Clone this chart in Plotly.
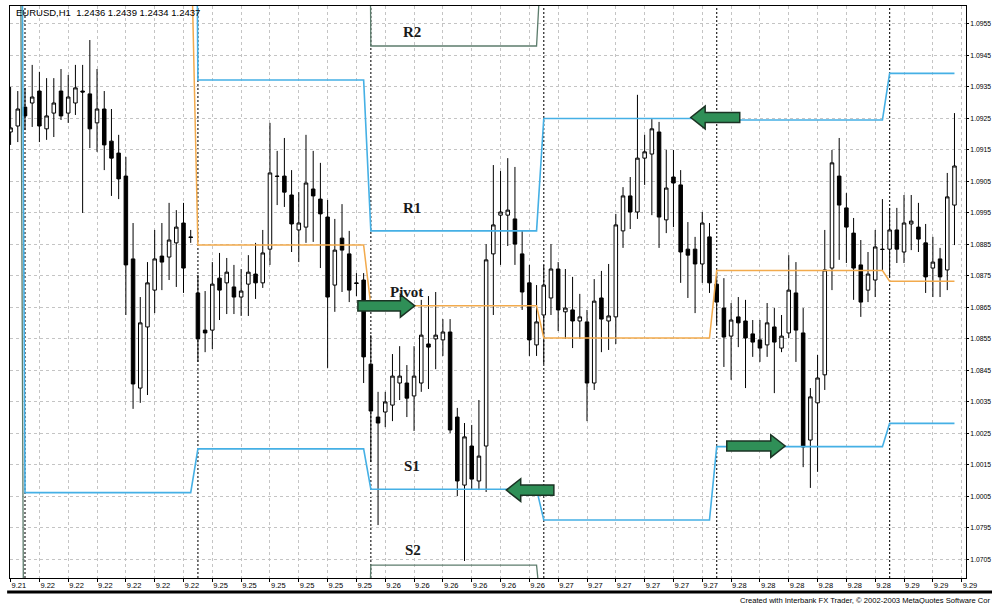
import plotly.graph_objects as go

# ---------------- data (H1 bars, index 0 = first bar of 9.22) ----------------
bars = list(range(-2, 130))

opens = [1.09207, 1.09226, 1.09286, 1.09299, 1.09337, 1.09217, 1.09267, 1.09337, 1.09267, 1.09299, 1.09337, 1.09328,
         1.09236, 1.09280, 1.09178, 1.09140, 1.09067, 1.08804, 1.08394, 1.08588, 1.08705, 1.08813, 1.08810, 1.08855,
         1.08918, 1.08874, 1.08696, 1.08578, 1.08578, 1.08743, 1.08728, 1.08715, 1.08683, 1.08724, 1.08756, 1.08728,
         1.08835, 1.09067, 1.09067, 1.09007, 1.08896, 1.08905, 1.09026, 1.08994, 1.08937, 1.08721, 1.08870, 1.08820,
         1.08728, 1.08737, 1.08470, 1.08302, 1.08318, 1.08340, 1.08410, 1.08410, 1.08369, 1.08410, 1.08534, 1.08550,
         1.08547, 1.08572, 1.08302, 1.08086, 1.08210, 1.08099, 1.08210, 1.08820, 1.08943, 1.08943, 1.08931, 1.08820,
         1.08728, 1.08531, 1.08626, 1.08680, 1.08772, 1.08636, 1.08642, 1.08607, 1.08604, 1.08410, 1.08680, 1.08607,
         1.08620, 1.08893, 1.09004, 1.08953, 1.09124, 1.09137, 1.09207, 1.08928, 1.09064, 1.09039, 1.08835, 1.08835,
         1.08788, 1.08874, 1.08724, 1.08648, 1.08559, 1.08620, 1.08607, 1.08566, 1.08547, 1.08531, 1.08588, 1.08521,
         1.08569, 1.08696, 1.08569, 1.08229, 1.08347, 1.08436, 1.08775, 1.09067, 1.08966, 1.08886, 1.08785, 1.08705,
         1.08737, 1.08835, 1.08835, 1.08896, 1.08826, 1.08915, 1.08905, 1.08855, 1.08775, 1.08804, 1.08769, 1.08975]

highs = [1.09350, 1.09337, 1.09347, 1.09420, 1.09398, 1.09378, 1.09378, 1.09407, 1.09388, 1.09420, 1.09420, 1.09499,
         1.09407, 1.09337, 1.09280, 1.09198, 1.09128, 1.08918, 1.08683, 1.08794, 1.08896, 1.08918, 1.08982, 1.08959,
         1.08982, 1.08896, 1.08753, 1.08702, 1.08794, 1.08823, 1.08807, 1.08785, 1.08772, 1.08816, 1.08855, 1.08896,
         1.09236, 1.09147, 1.09188, 1.09086, 1.09016, 1.09198, 1.09147, 1.09109, 1.08991, 1.08931, 1.08978, 1.08893,
         1.08759, 1.08759, 1.08562, 1.08382, 1.08382, 1.08502, 1.08527, 1.08467, 1.08527, 1.08674, 1.08686, 1.08699,
         1.08613, 1.08613, 1.08331, 1.08283, 1.08277, 1.08356, 1.08851, 1.09102, 1.09083, 1.09124, 1.09096, 1.08893,
         1.08785, 1.08721, 1.08785, 1.08851, 1.08794, 1.08772, 1.08747, 1.08693, 1.08642, 1.08740, 1.08766, 1.08788,
         1.08947, 1.09032, 1.09064, 1.09325, 1.09198, 1.09248, 1.09239, 1.09150, 1.09150, 1.09086, 1.08921, 1.08874,
         1.08953, 1.08918, 1.08759, 1.08743, 1.08664, 1.08683, 1.08674, 1.08610, 1.08610, 1.08664, 1.08648, 1.08626,
         1.08816, 1.08794, 1.08648, 1.08394, 1.08499, 1.08896, 1.09150, 1.09188, 1.09013, 1.08934, 1.08864, 1.08826,
         1.08896, 1.08994, 1.08966, 1.08966, 1.09007, 1.09007, 1.08982, 1.08915, 1.08874, 1.08839, 1.09077, 1.09267]

lows = [1.09166, 1.09175, 1.09213, 1.09223, 1.09175, 1.09182, 1.09191, 1.09245, 1.09236, 1.09261, 1.08950, 1.09156,
        1.09144, 1.09086, 1.09004, 1.08994, 1.08626, 1.08328, 1.08347, 1.08372, 1.08632, 1.08705, 1.08737, 1.08715,
        1.08696, 1.08855, 1.08477, 1.08508, 1.08518, 1.08610, 1.08629, 1.08629, 1.08623, 1.08623, 1.08677, 1.08712,
        1.08785, 1.08975, 1.08969, 1.08826, 1.08794, 1.08855, 1.08858, 1.08775, 1.08458, 1.08636, 1.08699, 1.08667,
        1.08686, 1.08410, 1.08159, 1.07959, 1.08270, 1.08289, 1.08356, 1.08302, 1.08258, 1.08382, 1.08391, 1.08454,
        1.08496, 1.08251, 1.08051, 1.07845, 1.08073, 1.08070, 1.08064, 1.08626, 1.08785, 1.08845, 1.08785, 1.08642,
        1.08496, 1.08496, 1.08470, 1.08626, 1.08575, 1.08550, 1.08521, 1.08550, 1.08289, 1.08388, 1.08508, 1.08515,
        1.08534, 1.08839, 1.08899, 1.08931, 1.09039, 1.08943, 1.08839, 1.08886, 1.08905, 1.08728, 1.08680, 1.08632,
        1.08728, 1.08696, 1.08594, 1.08461, 1.08420, 1.08524, 1.08394, 1.08493, 1.08477, 1.08493, 1.08378, 1.08508,
        1.08553, 1.08477, 1.08143, 1.08077, 1.08128, 1.08388, 1.08705, 1.08801, 1.08791, 1.08674, 1.08620, 1.08667,
        1.08683, 1.08769, 1.08747, 1.08791, 1.08791, 1.08832, 1.08826, 1.08696, 1.08683, 1.08683, 1.08705, 1.08848]

closes = [1.09220, 1.09280, 1.09258, 1.09318, 1.09226, 1.09258, 1.09299, 1.09258, 1.09318, 1.09347, 1.09334, 1.09217,
          1.09280, 1.09166, 1.09124, 1.09058, 1.08785, 1.08407, 1.08601, 1.08728, 1.08804, 1.08794, 1.08864, 1.08905,
          1.08775, 1.08872, 1.08550, 1.08569, 1.08724, 1.08705, 1.08762, 1.08683, 1.08702, 1.08762, 1.08728, 1.08823,
          1.09077, 1.09066, 1.09016, 1.08915, 1.08918, 1.09045, 1.09004, 1.08947, 1.08683, 1.08832, 1.08832, 1.08705,
          1.08726, 1.08493, 1.08321, 1.08283, 1.08350, 1.08432, 1.08432, 1.08362, 1.08432, 1.08562, 1.08524, 1.08562,
          1.08572, 1.08261, 1.08099, 1.08239, 1.08105, 1.08178, 1.08801, 1.08912, 1.08953, 1.08959, 1.08851, 1.08699,
          1.08547, 1.08604, 1.08721, 1.08772, 1.08642, 1.08648, 1.08607, 1.08620, 1.08410, 1.08670, 1.08613, 1.08623,
          1.08912, 1.09004, 1.08953, 1.09124, 1.09144, 1.09217, 1.08937, 1.09029, 1.09045, 1.08826, 1.08816, 1.08788,
          1.08918, 1.08728, 1.08667, 1.08556, 1.08610, 1.08601, 1.08553, 1.08540, 1.08521, 1.08601, 1.08540, 1.08559,
          1.08705, 1.08578, 1.08207, 1.08366, 1.08426, 1.08769, 1.09109, 1.08975, 1.08905, 1.08775, 1.08667, 1.08756,
          1.08842, 1.08834, 1.08896, 1.08835, 1.08918, 1.08924, 1.08867, 1.08747, 1.08794, 1.08747, 1.09001, 1.09099]

# daily pivot levels (one value per day: 9.21, 9.22, 9.25, 9.26, 9.27, 9.28, 9.29)
day_first_bar = [-2, 0, 24, 48, 72, 96, 120]
level_r2 = [1.13000, 1.12000, 1.12500, 1.09480, 1.09900, 1.09850, 1.09750]
level_r1 = [1.12800, 1.12500, 1.09372, 1.08893, 1.09250, 1.09245, 1.09393]
level_pivot = [1.12000, 1.09880, 1.08848, 1.08655, 1.08553, 1.08767, 1.08733]
level_s1 = [1.12500, 1.08062, 1.08201, 1.08073, 1.07975, 1.08208, 1.08282]
level_s2 = [1.12000, 1.06500, 1.07000, 1.07832, 1.07600, 1.07500, 1.07700]

day_separators = [0, 24, 48, 72, 96, 120]

x_tick_pos = list(range(-2, 131, 4))
x_tick_text = (["9.21"] + ["9.22"] * 6 + ["9.25"] * 6 + ["9.26"] * 6 +
               ["9.27"] * 6 + ["9.28"] * 6 + ["9.29"] * 3)

y_tick_vals = [1.0955, 1.0945, 1.0935, 1.0925, 1.0915, 1.0905, 1.0895, 1.0885, 1.0875,
               1.0865, 1.0855, 1.0845, 1.0835, 1.0825, 1.0815, 1.0805, 1.0795, 1.0785]
y_tick_text = ["1.0955", "1.0945", "1.0935", "1.0925", "1.0915", "1.0905", "1.0995", "1.0885", "1.0875",
               "1.0865", "1.0855", "1.0845", "1.0035", "1.0025", "1.0015", "1.0005", "1.0795", "1.0705"]

level_labels = ["R2", "R1", "Pivot", "S1", "S2"]
level_label_x = [53.7, 53.7, 52.9, 53.7, 53.8]
level_label_y = [1.09525, 1.08966, 1.08699, 1.08147, 1.07880]

# arrows: (tail bar, tip bar, price)
arrows = [(46.2, 54.1, 1.08655), (73.4, 66.8, 1.08070), (99.2, 92.4, 1.09253), (97.4, 105.5, 1.08210)]

title_text = "EURUSD,H1\u00a0\u00a01.2436 1.2439 1.2434 1.2437"
credit_text = "Created with Interbank FX Trader, \u00a9 2002-2003 MetaQuotes Software Cor"

# ---------------- figure ----------------
fig = go.Figure()

fig.add_trace(go.Candlestick(
    x=bars, open=opens, high=highs, low=lows, close=closes,
    increasing=dict(line=dict(color="black", width=1), fillcolor="white"),
    decreasing=dict(line=dict(color="black", width=1), fillcolor="black"),
    whiskerwidth=0, showlegend=False, hoverinfo="skip"))


def per_bar(levels):
    out = []
    for b in bars:
        d = 0
        for i, s in enumerate(day_first_bar):
            if b >= s:
                d = i
        out.append(levels[d])
    return out


line_specs = [(level_r2, "#5c7c6c", 1.3), (level_s2, "#5c7c6c", 1.3),
              (level_pivot, "#f2aa4c", 1.5),
              (level_r1, "#45b0e5", 1.6), (level_s1, "#45b0e5", 1.6)]
for lv, col, w in line_specs:
    fig.add_trace(go.Scatter(x=bars, y=per_bar(lv), mode="lines",
                             line=dict(color=col, width=w), showlegend=False, hoverinfo="skip"))

shapes = []
for s in day_separators:
    shapes.append(dict(type="line", xref="x", yref="paper", x0=s, x1=s, y0=0, y1=1,
                       line=dict(color="#222222", width=1.2, dash="2px,2px"), layer="below"))

head_len = 2.0
shaft_h = 0.00016
head_h = 0.00036
for tail, tip, yc in arrows:
    d = 1 if tip > tail else -1
    hb = tip - d * head_len
    path = (f"M {tail},{yc - shaft_h} L {hb},{yc - shaft_h} L {hb},{yc - head_h} L {tip},{yc} "
            f"L {hb},{yc + head_h} L {hb},{yc + shaft_h} L {tail},{yc + shaft_h} Z")
    shapes.append(dict(type="path", xref="x", yref="y", path=path,
                       fillcolor="#2f8f57", line=dict(color="#1b3324", width=1.5), layer="above"))

# thick separator line under the axis labels
shapes.append(dict(type="line", xref="paper", yref="paper", x0=-0.003, x1=1.03,
                   y0=-0.0245, y1=-0.0245, line=dict(color="black", width=3)))

annotations = []
for t, lx, ly in zip(level_labels, level_label_x, level_label_y):
    annotations.append(dict(x=lx, y=ly, xref="x", yref="y", text=f"<b>{t}</b>", showarrow=False,
                            font=dict(family="Liberation Serif", size=15, color="#1a1a1a")))

annotations.append(dict(x=0.0042, y=0.9878, xref="paper", yref="paper", text=title_text,
                        showarrow=False, xanchor="left", yanchor="middle",
                        font=dict(family="Liberation Sans", size=9.5, color="black")))
annotations.append(dict(x=1.0275, y=-0.0385, xref="paper", yref="paper", text=credit_text,
                        showarrow=False, xanchor="right", yanchor="middle",
                        font=dict(family="Liberation Sans", size=7.6, color="black")))

fig.update_layout(
    width=992, height=604, autosize=False,
    margin=dict(l=10, r=26, t=6, b=26),
    paper_bgcolor="white", plot_bgcolor="white",
    showlegend=False,
    shapes=shapes, annotations=annotations,
    xaxis=dict(range=[-2.08, 130.6], tickmode="array", tickvals=x_tick_pos, ticktext=x_tick_text,
               ticklabelposition="outside right", ticks="outside", ticklen=3, tickcolor="black",
               showgrid=True, gridcolor="#c4c4c4", griddash="3px,3px", gridwidth=1,
               showline=True, linecolor="black", linewidth=1, mirror=True, zeroline=False,
               tickfont=dict(family="Liberation Sans", size=7.5, color="black"),
               rangeslider=dict(visible=False), fixedrange=True, automargin=False),
    yaxis=dict(range=[1.07791, 1.09607], side="right", tickmode="array",
               tickvals=y_tick_vals, ticktext=y_tick_text,
               ticks="outside", ticklen=2, tickcolor="black",
               showgrid=True, gridcolor="#c4c4c4", griddash="3px,3px", gridwidth=1,
               showline=True, linecolor="black", linewidth=1, mirror=True, zeroline=False,
               tickfont=dict(family="Liberation Sans", size=6.8, color="black"),
               fixedrange=True, automargin=False),
)

fig.write_html("out.html", config={"displayModeBar": False},
               post_script="document.body.style.margin='0';document.body.style.overflow='hidden';")
